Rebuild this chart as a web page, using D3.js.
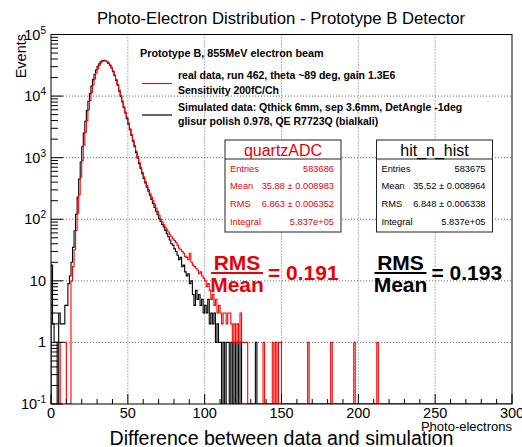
<!DOCTYPE html>
<html><head><meta charset="utf-8">
<script src="https://cdn.jsdelivr.net/npm/d3@7"></script>
<style>
body{margin:0;background:#fff}
svg{display:block}
text{font-family:"Liberation Sans",Arial,Helvetica,sans-serif}
</style>
</head><body>
<svg id="chart" width="522" height="447"></svg>
<script>
// Simulated photo-electron counts per 1-p.e. bin, starting at bin 0
const simCounts = [18,2,1,1,0,3,2,2,2,4,4,9,12,20,35,65,120,230,450,850,
  1500,2500,3900,5800,8200,11000,14500,18500,22500,26500,30500,33500,36000,37500,38000,37500,36000,34000,31500,28500,
  25000,21500,18000,15000,12000,9800,8000,6500,5300,4300,3500,2850,2300,1850,1500,1200,980,800,660,550,
  460,390,330,285,245,210,180,155,135,118,102,92,82,75,66,58,52,46,40,38,
  33,30,26,22,24,17,18,14,12,13,9,10,6,4,7,5,6,4,5,3,
  4,3,5,2,3,2,3,1,2,1,1,0,1,0,1,1,0,1,0,1,0,1,0,1];
// isolated single-entry bins further out in the simulated tail
const simSingles = [133];

// Measured (quartzADC) counts per bin, starting at bin 0
const dataCounts = [0,0,0,0,0,0,1,1,1,1,0,0,0,10,17,32,65,125,250,480,
  900,1600,2600,4000,6000,8500,11500,15000,19000,23500,27500,31500,34500,36500,37500,37500,36500,34500,32000,29000,
  25500,22000,18500,15500,12500,10200,8300,6700,5500,4500,3650,2950,2400,1950,1580,1280,1040,850,700,580,
  490,415,355,305,265,230,200,175,152,133,115,100,90,82,74,68,62,56,52,48,
  45,42,38,34,32,30,28,25,24,22,28,20,18,17,16,15,13,14,12,11,
  10,8,9,7,5,6,4,5,3,4,3,2,3,3,2,3,3,2,1,2,1,2,1,3,1,1,1,1];
// isolated single-entry bins further out in the measured tail
const dataSingles = [138,144,146,148,149,167,182,197,212];

const dataBins = 290, simBins = 300;
const xTicks = [0,50,100,150,200,250,300];
const yDecades = [-1,0,1,2,3,4,5];

const statsQuartz = [["Entries","583686"],["Mean","35.88 \u00b1 0.008983"],["RMS","6.863 \u00b1 0.006352"],["Integral","5.837e+05"]];
const statsHit = [["Entries","583675"],["Mean","35.52 \u00b1 0.008964"],["RMS","6.848 \u00b1 0.006338"],["Integral","5.837e+05"]];
const rmsOverMean = [0.191, 0.193];

const RED = "#ff0000", RED_TXT = "#e8000b";
const svg = d3.select("#chart");
const L = 51, R = 512, T = 34.5, B = 404;
const x = d3.scaleLinear().domain([0,300]).range([L,R]);
const y = d3.scaleLog().domain([0.1,1e5]).range([B,T]);
const floor = 0.1;

function expand(counts, singles, n){
  const a = new Array(n).fill(0);
  counts.forEach((c,i)=>{ a[i]=c; });
  singles.forEach(b=>{ a[b]=1; });
  return a;
}
const sim = expand(simCounts, simSingles, simBins);
const dat = expand(dataCounts, dataSingles, dataBins);

svg.append("defs").append("clipPath").attr("id","plot")
  .append("rect").attr("x",L).attr("y",T).attr("width",R-L).attr("height",B-T);

// dotted grid
const grid = svg.append("g").attr("stroke","#444").attr("stroke-width",0.8).attr("stroke-dasharray","1,2");
xTicks.filter(v=>v>0&&v<300).forEach(v=>{
  grid.append("line").attr("x1",x(v)).attr("x2",x(v)).attr("y1",T).attr("y2",B);
});
yDecades.filter(k=>k>-1&&k<5).forEach(k=>{
  grid.append("line").attr("x1",L).attr("x2",R).attr("y1",y(Math.pow(10,k))).attr("y2",y(Math.pow(10,k)));
});

// histograms drawn as steps; empty bins drop to the bottom of the frame
function histPath(vals){
  const pts = [[0,floor]];
  vals.forEach((v,i)=>pts.push([i, Math.max(v,floor)]));
  pts.push([vals.length, Math.max(vals[vals.length-1],floor)]);
  pts.push([vals.length, floor]);
  return d3.line().x(d=>x(d[0])).y(d=>y(d[1])).curve(d3.curveStepAfter)(pts);
}
const hg = svg.append("g").attr("clip-path","url(#plot)").attr("fill","none");
hg.append("path").attr("d",histPath(sim)).attr("stroke","#000").attr("stroke-width",1.1);
hg.append("path").attr("d",histPath(dat)).attr("stroke",RED).attr("stroke-width",1.1);

// frame
svg.append("rect").attr("x",L).attr("y",T).attr("width",R-L).attr("height",B-T)
  .attr("fill","none").attr("stroke","#000").attr("stroke-width",1);

// y ticks (inside, left)
const tk = svg.append("g").attr("stroke","#000").attr("stroke-width",1);
yDecades.forEach(k=>{
  const v = Math.pow(10,k);
  tk.append("line").attr("x1",L).attr("x2",L+12).attr("y1",y(v)).attr("y2",y(v));
  if(k<5) for(let m=2;m<=9;m++){
    const yy = y(m*v);
    tk.append("line").attr("x1",L).attr("x2",L+7).attr("y1",yy).attr("y2",yy);
  }
});
// x ticks (inside, bottom)
d3.range(0,301,10).forEach(v=>{
  const len = v%50===0 ? 10 : 5;
  tk.append("line").attr("x1",x(v)).attr("x2",x(v)).attr("y1",B).attr("y2",B-len);
});

// y labels
yDecades.forEach(k=>{
  const t = svg.append("text").attr("x",46).attr("y",y(Math.pow(10,k))+5)
    .attr("text-anchor","end").attr("font-size",14.5).attr("fill","#000");
  if(k===0){ t.text("1"); }
  else if(k===1){ t.text("10"); }
  else {
    t.append("tspan").text("10");
    t.append("tspan").attr("dy",-6).attr("font-size",10).text(String(k));
  }
});
// x labels
xTicks.forEach(v=>{
  svg.append("text").attr("x",x(v)).attr("y",417.5).attr("text-anchor","middle")
    .attr("font-size",14.5).text(v);
});

// axis titles and headings
svg.append("text").attr("transform","translate(26,34) rotate(-90)").attr("text-anchor","end")
  .attr("font-size",14.5).text("Events");
svg.append("text").attr("x",512).attr("y",430.5).attr("text-anchor","end").attr("font-size",13).text("Photo-electrons");
svg.append("text").attr("x",281).attr("y",23.5).attr("text-anchor","middle").attr("font-size",16.7)
  .text("Photo-Electron Distribution - Prototype B Detector");
svg.append("text").attr("x",281.5).attr("y",444.5).attr("text-anchor","middle").attr("font-size",19.6)
  .text("Difference between data and simulation");

// legend
const lg = svg.append("g").attr("font-weight","bold").attr("font-size",10.5);
lg.append("text").attr("x",140).attr("y",57).attr("font-size",10.8).text("Prototype B, 855MeV electron beam");
lg.append("line").attr("x1",142).attr("x2",172).attr("y1",83.5).attr("y2",83.5).attr("stroke",RED).attr("stroke-width",1.2);
lg.append("text").attr("x",178).attr("y",79).text("real data, run 462, theta ~89 deg, gain 1.3E6");
lg.append("text").attr("x",178).attr("y",93.5).text("Sensitivity 200fC/Ch");
lg.append("line").attr("x1",142).attr("x2",172).attr("y1",115).attr("y2",115).attr("stroke","#000").attr("stroke-width",1.2);
lg.append("text").attr("x",178).attr("y",110.5).text("Simulated data: Qthick 6mm, sep 3.6mm, DetAngle -1deg");
lg.append("text").attr("x",178).attr("y",125).text("glisur polish 0.978, QE R7723Q (bialkali)");

// statistics boxes
function statsBox(x0, name, rows, color){
  const w = 116, h = 92, top = 140, head = 19;
  const g = svg.append("g");
  g.append("rect").attr("x",x0).attr("y",top).attr("width",w).attr("height",h)
    .attr("fill","#fff").attr("stroke","#222").attr("stroke-width",1);
  g.append("line").attr("x1",x0).attr("x2",x0+w).attr("y1",top+head).attr("y2",top+head)
    .attr("stroke","#222").attr("stroke-width",1);
  g.append("text").attr("x",x0+w/2).attr("y",top+15.5).attr("text-anchor","middle")
    .attr("font-size",16).attr("fill",color).text(name);
  rows.forEach((r,i)=>{
    const yy = top + 31.5 + i*17.8;
    g.append("text").attr("x",x0+5).attr("y",yy).attr("font-size",9.3).attr("fill",color).text(r[0]);
    g.append("text").attr("x",x0+w-7).attr("y",yy).attr("text-anchor","end").attr("font-size",9.3).attr("fill",color).text(r[1]);
  });
}
statsBox(225, "quartzADC", statsQuartz, RED_TXT);
statsBox(376.5, "hit_n_hist", statsHit, "#000");

// RMS / Mean annotations
function ratio(cx, value, color){
  const g = svg.append("g").attr("font-weight","bold").attr("font-size",21).attr("fill",color);
  g.append("text").attr("x",cx).attr("y",270).attr("text-anchor","middle").text("RMS");
  g.append("line").attr("x1",cx-26).attr("x2",cx+26).attr("y1",273).attr("y2",273)
    .attr("stroke",color).attr("stroke-width",2.2);
  g.append("text").attr("x",cx).attr("y",291.5).attr("text-anchor","middle").text("Mean");
  g.append("text").attr("x",cx+31).attr("y",279.5).text("= " + value.toFixed(3));
}
ratio(237, rmsOverMean[0], RED_TXT);
ratio(400.5, rmsOverMean[1], "#000");
</script>
</body></html>
